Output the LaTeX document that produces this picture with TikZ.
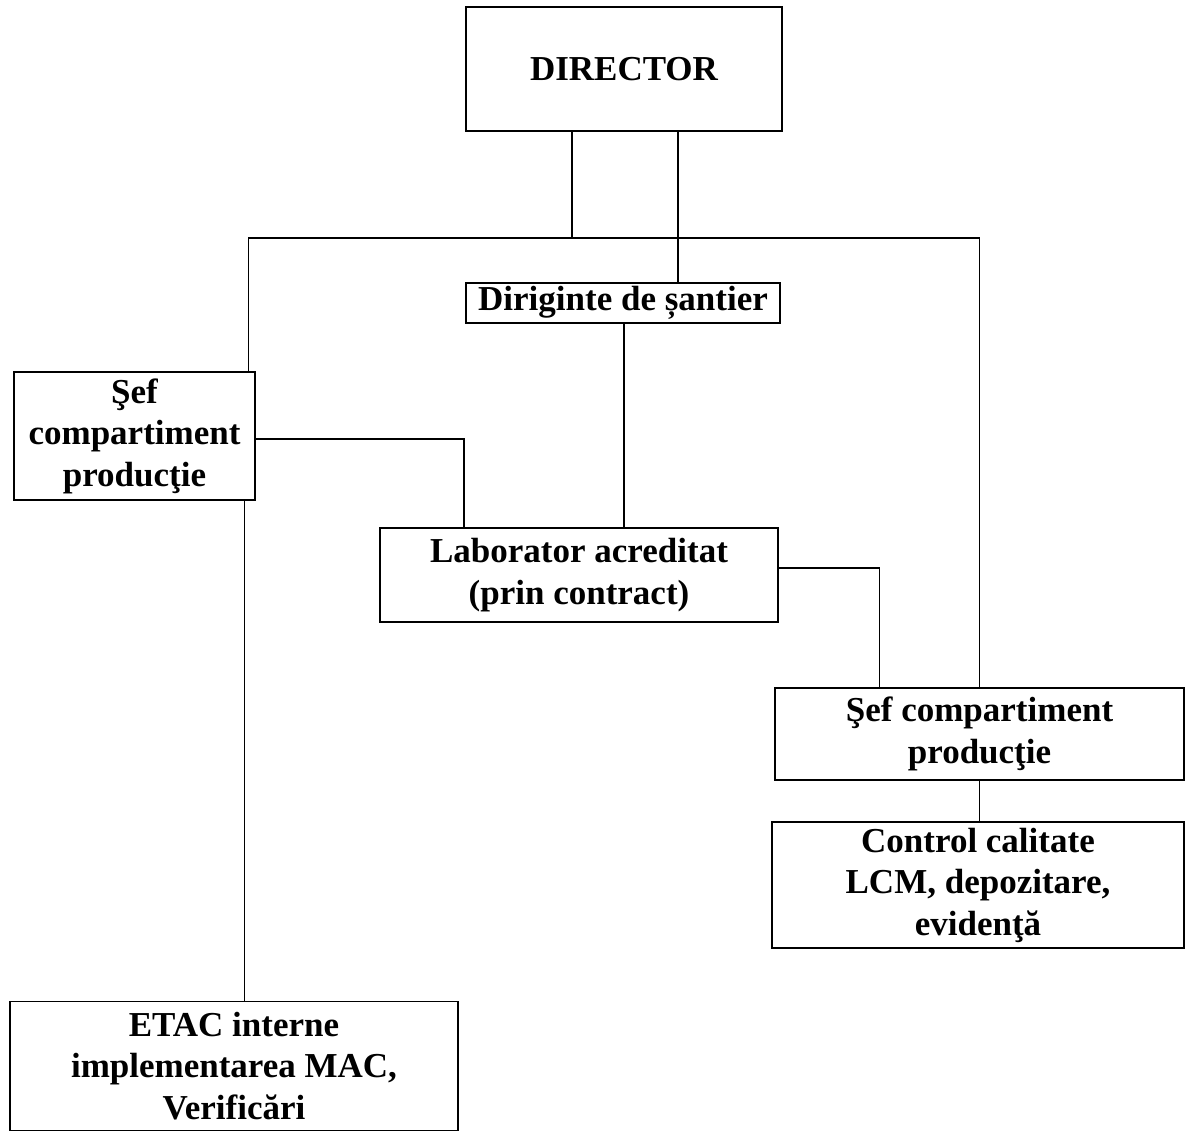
\documentclass[tikz,border=0pt]{standalone}
\usepackage{fontspec}
\setmainfont{Liberation Serif}
\usepackage{tikz}
\usetikzlibrary{positioning}

\begin{document}
\begin{tikzpicture}[x=1pt,y=-1pt,
  box/.style={draw,line width=1.3pt,inner sep=0pt,align=center,font=\fontsize{35}{41.5}\selectfont\bfseries},
  conn/.style={line width=1.2pt}]
  \useasboundingbox (0,0) rectangle (1186,1135);
  \node[box,minimum width=316pt,minimum height=124pt] (director) at (624,69) {DIRECTOR};
  \node[box,minimum width=314pt,minimum height=40pt] (diriginte) at (623,303) {Diriginte de șantier};
  \node[box,minimum width=241pt,minimum height=128pt] (sefprod) at (134.5,436) {Şef\\compartiment\\producţie};
  \node[box,minimum width=398pt,minimum height=94pt] (laborator) at (579,575) {Laborator acreditat\\(prin contract)};
  \node[box,minimum width=409pt,minimum height=92pt] (sefcomp) at (979.5,734) {Şef compartiment\\producţie};
  \node[box,minimum width=412pt,minimum height=126pt] (control) at (978,885) {Control calitate\\LCM, depozitare,\\evidenţă};
  \node[box,minimum width=448pt,minimum height=129pt] (etac) at (234,1066) {ETAC interne\\implementarea MAC,\\Verificări};
  \coordinate (bus) at (572,238);
  \draw[conn] ([xshift=-52pt]director.south) -- (bus);
  \draw[conn] ([xshift=-7pt]sefprod.north east) |- (bus) -| (sefcomp.north);
  \draw[conn] ([xshift=54pt]director.south) -- ([xshift=54pt]director.south |- diriginte.north);
  \draw[conn] ([xshift=1pt]diriginte.south) -- ([xshift=1pt]diriginte.south |- laborator.north);
  \draw[conn] ([yshift=-3pt]sefprod.east) -| ([xshift=-115pt]laborator.north);
  \draw[conn] ([yshift=7pt]laborator.east) -| ([xshift=-100pt]sefcomp.north);
  \draw[conn] (sefcomp.south) -- (sefcomp.south |- control.north);
  \draw[conn] ([xshift=110pt]sefprod.south) -- ([xshift=110pt]sefprod.south |- etac.north);
\end{tikzpicture}
\end{document}
